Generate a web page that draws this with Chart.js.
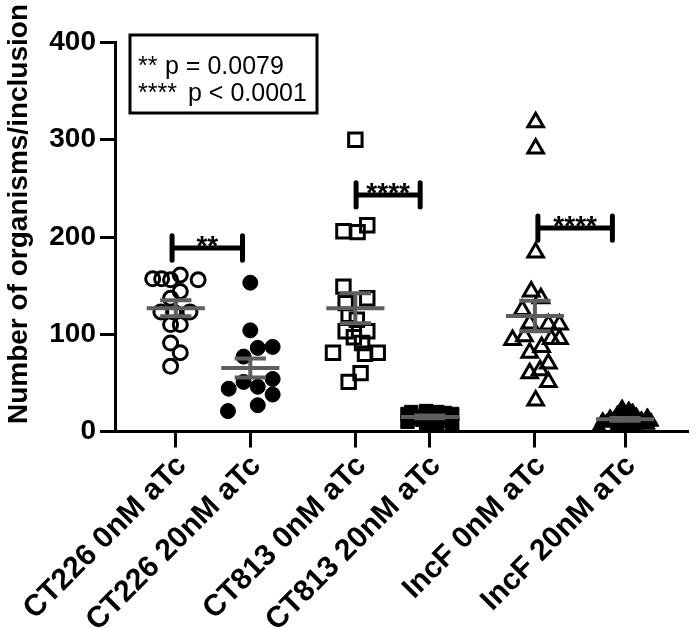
<!DOCTYPE html>
<html><head><meta charset="utf-8">
<script src="https://cdn.jsdelivr.net/npm/chart.js@4.4.0/dist/chart.umd.min.js"></script>
<style>html,body{margin:0;padding:0;background:#fff}#wrap{width:700px;height:628px;position:relative}</style>
</head><body><div id="wrap"><canvas id="c"></canvas></div>
<script>
// ---- data ----
const categories = ['CT226 0nM aTc', 'CT226 20nM aTc', 'CT813 0nM aTc', 'CT813 20nM aTc', 'IncF 0nM aTc', 'IncF 20nM aTc'];
const categoryPositions = [0, 1, 2.41, 3.41, 4.82, 6.03];
const yTicks = [0, 100, 200, 300, 400];

const ct226_0nM = [157, 157, 156, 161, 156, 144, 137, 123, 123, 123, 110, 110, 91, 81, 67];
const ct226_0nM_jitter = [-0.31, -0.19, -0.07, 0.06, 0.30, 0.06, -0.07, -0.20, -0.03, 0.19, -0.07, 0.06, -0.07, 0.06, -0.07];
const ct226_20nM = [153, 104, 86, 87, 77, 51, 46, 54, 44, 38, 27, 21];
const ct226_20nM_jitter = [0, 0, 0.10, 0.30, -0.09, -0.09, 0.10, 0.30, -0.29, 0.30, 0.10, -0.30];
const ct813_0nM = [300, 206, 205, 212, 149, 137, 132, 120, 115, 103, 103, 97, 91, 81, 81, 80, 60, 51];
const ct813_0nM_jitter = [0, -0.16, 0.03, 0.16, -0.16, 0.16, -0.13, -0.09, 0.02, -0.13, 0.16, -0.02, 0.09, -0.30, 0.30, 0.13, 0.07, -0.09];
const ct813_20nM = [21, 20, 20, 19, 18, 18, 17, 16, 16, 15, 14, 13, 12, 11, 10, 8, 6, 3];
const ct813_20nM_jitter = [-0.05, 0.10, -0.25, 0.20, 0.30, -0.30, 0, -0.15, 0.15, 0.25, -0.20, 0.05, -0.10, 0.20, -0.30, 0.30, 0.10, -0.05];
const incF_0nM = [318, 291, 184, 144, 137, 125, 111, 110, 110, 94, 98, 95, 95, 87, 81, 70, 60, 63, 51, 32];
const incF_0nM_jitter = [0.01, 0.01, 0.01, -0.05, 0.08, -0.17, -0.07, 0.18, 0.33, -0.30, -0.14, 0.22, 0.33, 0.09, -0.07, 0.18, -0.07, 0.07, 0.18, 0.01];
const incF_20nM = [24, 22, 20, 18, 16, 15, 14, 13, 12, 12, 11, 10, 10, 9, 8, 7, 6, 5, 4, 2];
const incF_20nM_jitter = [-0.04, 0.05, 0.10, -0.10, 0.15, 0.30, -0.20, 0.0, -0.15, 0.22, -0.30, 0.35, 0.20, -0.25, 0.05, 0.30, -0.10, 0.15, -0.35, 0.0];

const groupMeans = [126.7, 65.3, 126.7, 15, 118.8, 12.5];
const groupSEM = [8.3, 9.8, 15.5, 1.5, 15.6, 1.5];

const bracketFrom = [-0.05, 2.42, 4.86];
const bracketTo = [0.895, 3.28, 5.86];
const bracketLevel = [188.7, 243.3, 209.2];
const bracketLabels = ['**', '****', '****'];

const pValueStars = ['**', '****'];
const pValueTexts = ['p = 0.0079', 'p < 0.0001'];
const yTitle = 'Number of organisms/inclusion';

// ---- build ----
const FAMILY = '"Liberation Sans", Arial, sans-serif';
function pts(vals, jit, gi) {
  return vals.map((v, i) => ({x: categoryPositions[gi] + jit[i], y: v}));
}
const groups = [
  {vals: ct226_0nM, jit: ct226_0nM_jitter, style: 'circle', r: 7, fill: false},
  {vals: ct226_20nM, jit: ct226_20nM_jitter, style: 'circle', r: 7.5, fill: true},
  {vals: ct813_0nM, jit: ct813_0nM_jitter, style: 'rect', r: 9.5, fill: false},
  {vals: ct813_20nM, jit: ct813_20nM_jitter, style: 'rect', r: 9.5, fill: true},
  {vals: incF_0nM, jit: incF_0nM_jitter, style: 'triangle', r: 9, fill: false},
  {vals: incF_20nM, jit: incF_20nM_jitter, style: 'triangle', r: 9, fill: true},
];
const datasets = [];
const meanPts = [];
groupMeans.forEach((m, i) => {
  const x = categoryPositions[i], s = groupSEM[i];
  const hw = 0.39, cw = 0.21;
  meanPts.push({x: x - hw, y: m}, {x: x + hw, y: m}, {x: x, y: null});
  meanPts.push({x: x, y: m - s}, {x: x, y: m + s}, {x: x, y: null});
  meanPts.push({x: x - cw, y: m + s}, {x: x + cw, y: m + s}, {x: x, y: null});
  meanPts.push({x: x - cw, y: m - s}, {x: x + cw, y: m - s}, {x: x, y: null});
});
datasets.push({label: 'mean', data: meanPts, showLine: true, spanGaps: false, borderColor: '#5e5e5e', borderWidth: 4, pointRadius: 0, order: 0});
const brPts = [];
const cap = 12.5;
bracketLevel.forEach((L, i) => {
  const f = bracketFrom[i], t = bracketTo[i];
  brPts.push({x: f, y: L - cap}, {x: f, y: L + cap}, {x: f, y: null});
  brPts.push({x: f, y: L}, {x: t, y: L}, {x: t, y: null});
  brPts.push({x: t, y: L - cap}, {x: t, y: L + cap}, {x: t, y: null});
});
datasets.push({label: 'brackets', data: brPts, showLine: true, spanGaps: false, borderColor: '#000', borderWidth: 5, borderCapStyle: 'round', pointRadius: 0, order: 0});
groups.forEach((g, gi) => {
  datasets.push({
    label: categories[gi], data: pts(g.vals, g.jit, gi), showLine: false,
    pointStyle: g.style, pointRadius: g.r, pointHoverRadius: g.r,
    pointBorderWidth: g.fill ? 1 : 3, pointBorderColor: '#000',
    pointBackgroundColor: g.fill ? '#000' : 'rgba(0,0,0,0)', order: 1
  });
});

const annot = {
  id: 'annot',
  afterDraw(chart) {
    const ctx = chart.ctx, xs = chart.scales.x, ys = chart.scales.y;
    ctx.save();
    ctx.fillStyle = '#000';
    // y title
    ctx.save();
    ctx.translate(27, 214);
    ctx.rotate(-Math.PI / 2);
    ctx.font = 'bold 28px ' + FAMILY;
    ctx.textAlign = 'center';
    ctx.textBaseline = 'alphabetic';
    ctx.fillText(yTitle, 0, 0);
    ctx.restore();
    // bracket labels
    ctx.font = 'bold 28px ' + FAMILY;
    ctx.textAlign = 'center';
    ctx.textBaseline = 'alphabetic';
    bracketLabels.forEach((lab, i) => {
      const cx = xs.getPixelForValue((bracketFrom[i] + bracketTo[i]) / 2);
      const cy = ys.getPixelForValue(bracketLevel[i]);
      ctx.fillText(lab, cx, cy + 7);
    });
    // p-value box
    ctx.lineWidth = 3;
    ctx.strokeStyle = '#000';
    ctx.strokeRect(130, 35, 187, 78);
    ctx.font = '25px ' + FAMILY;
    ctx.textAlign = 'left';
    ctx.fillText(pValueStars[0], 138, 74);
    ctx.fillText(pValueTexts[0], 165, 74);
    ctx.fillText(pValueStars[1], 138, 101);
    ctx.fillText(pValueTexts[1], 188, 101);
    ctx.restore();
  }
};

new Chart(document.getElementById('c'), {
  type: 'scatter',
  data: {datasets},
  plugins: [annot],
  options: {
    responsive: true, maintainAspectRatio: false, animation: false,
    layout: {padding: {top: 42.5, right: 1, bottom: 0, left: 0}},
    plugins: {legend: {display: false}, tooltip: {enabled: false}},
    scales: {
      x: {
        type: 'linear', min: -0.816, max: 6.868,
        afterBuildTicks: (s) => { s.ticks = categoryPositions.map(v => ({value: v})); },
        afterFit: (s) => { s.height = 196.5; s.paddingLeft = 0; s.paddingRight = 0; },
        ticks: {
          autoSkip: false, maxRotation: 45, minRotation: 45, padding: 1, labelOffset: 6,
          color: '#000', font: {family: FAMILY, size: 30, weight: 'bold'},
          callback: (v, i) => categories[i]
        },
        grid: {display: true, drawOnChartArea: false, drawTicks: true, tickLength: 16, lineWidth: 3, color: '#000'},
        border: {display: true, width: 3, color: '#000'}
      },
      y: {
        type: 'linear', min: 0, max: 400,
        afterBuildTicks: (s) => { s.ticks = yTicks.map(v => ({value: v})); },
        afterFit: (s) => { s.width = 115; s.paddingTop = 0; s.paddingBottom = 0; },
        ticks: {padding: 4, color: '#000', font: {family: FAMILY, size: 28, weight: 'bold'}},
        grid: {display: true, drawOnChartArea: false, drawTicks: true, tickLength: 15, lineWidth: 3, color: '#000'},
        border: {display: true, width: 3, color: '#000'}
      }
    }
  }
});
</script>
</body></html>
